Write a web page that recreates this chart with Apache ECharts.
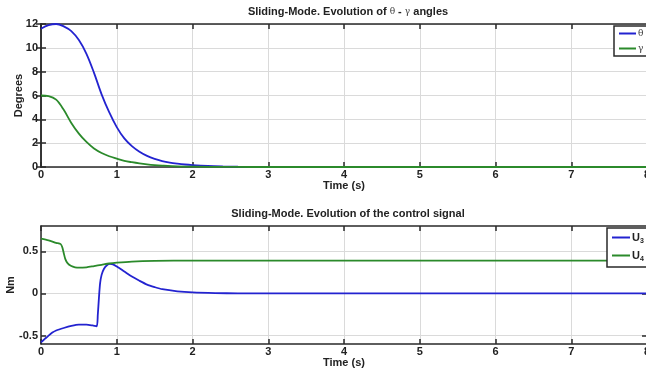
<!DOCTYPE html>
<html>
<head>
<meta charset="utf-8">
<script src="https://cdn.jsdelivr.net/npm/echarts@6/dist/echarts.min.js"></script>
<style>
  html, body { margin: 0; padding: 0; background: #fff; }
  #chart { width: 646px; height: 372px; }
</style>
</head>
<body>
<div id="chart"></div>
<script>
  // time ticks shared by both plots
  var timeTicks = [0, 1, 2, 3, 4, 5, 6, 7, 8]
  var degTicks = [0, 2, 4, 6, 8, 10, 12]
  var nmTicks = [-0.5, 0, 0.5]

  // theta / gamma angles (degrees)
  var thetaTime = [0, 0.1, 0.2, 0.3, 0.4, 0.5, 0.6, 0.7, 0.8, 0.9, 1.0, 1.1, 1.2, 1.3, 1.4, 1.5, 1.6, 1.7, 1.8, 1.9, 2.0, 2.2, 2.4, 2.6, 2.8, 3.0, 3.5, 4, 8]
  var thetaDeg = [11.6, 11.9, 12.0, 11.8, 11.4, 10.65, 9.5, 7.9, 6.1, 4.6, 3.35, 2.4, 1.75, 1.28, 0.93, 0.68, 0.5, 0.37, 0.28, 0.21, 0.16, 0.09, 0.05, 0.025, 0.012, 0.005, 0.001, 0, 0]
  var gammaTime = [0, 0.1, 0.2, 0.3, 0.4, 0.5, 0.6, 0.7, 0.8, 0.9, 1.0, 1.1, 1.2, 1.3, 1.4, 1.5, 1.6, 1.8, 2.0, 2.5, 3, 8]
  var gammaDeg = [6.0, 5.95, 5.65, 4.8, 3.7, 2.8, 2.1, 1.55, 1.17, 0.9, 0.7, 0.52, 0.4, 0.3, 0.22, 0.16, 0.12, 0.06, 0.03, 0.005, 0, 0]

  // control signals (Nm)
  var u3Time = [0, 0.05, 0.1, 0.15, 0.2, 0.3, 0.4, 0.5, 0.6, 0.68, 0.735, 0.75, 0.765, 0.78, 0.8, 0.83, 0.87, 0.91, 0.95, 1.0, 1.1, 1.2, 1.3, 1.4, 1.5, 1.6, 1.8, 2.0, 2.3, 2.6, 3, 8]
  var u3Nm = [-0.58, -0.54, -0.5, -0.465, -0.44, -0.41, -0.385, -0.37, -0.37, -0.38, -0.39, -0.25, -0.05, 0.12, 0.22, 0.29, 0.335, 0.35, 0.345, 0.32, 0.26, 0.2, 0.15, 0.105, 0.075, 0.05, 0.025, 0.012, 0.004, 0.001, 0, 0]
  var u4Time = [0, 0.1, 0.2, 0.26, 0.28, 0.3, 0.32, 0.35, 0.4, 0.45, 0.5, 0.6, 0.7, 0.8, 0.9, 1.0, 1.2, 1.5, 2.0, 8]
  var u4Nm = [0.65, 0.63, 0.6, 0.585, 0.55, 0.48, 0.41, 0.36, 0.325, 0.31, 0.305, 0.31, 0.325, 0.34, 0.355, 0.365, 0.378, 0.386, 0.39, 0.39]

  var BLUE = '#2323d0'
  var GREEN = '#2b8a2b'
  var FRAME = '#2a2a2a'
  var FONT = 'Liberation Sans'

  function pairs(xs, ys) {
    return xs.map(function (x, i) { return [x, ys[i]] })
  }

  var labelStyle = { color: '#222', fontWeight: 'bold', fontSize: 11, fontFamily: FONT }

  function xAxes(gridIndex, nameGap) {
    return [
      {
        type: 'value', gridIndex: gridIndex, min: 0, max: 8, interval: 1,
        name: 'Time (s)', nameLocation: 'middle', nameGap: nameGap,
        nameTextStyle: labelStyle,
        axisLine: { onZero: false, lineStyle: { color: FRAME, width: 1.5 } },
        axisTick: { inside: true, length: 5, lineStyle: { color: FRAME, width: 1.5 } },
        axisLabel: Object.assign({ margin: 2 }, labelStyle),
        splitLine: { show: true, lineStyle: { color: '#dadada', width: 1 } }
      },
      {
        type: 'value', gridIndex: gridIndex, position: 'top', min: 0, max: 8, interval: 1,
        axisLine: { onZero: false, lineStyle: { color: FRAME, width: 1.5 } },
        axisTick: { inside: true, length: 5, lineStyle: { color: FRAME, width: 1.5 } },
        axisLabel: { show: false },
        splitLine: { show: false }
      }
    ]
  }

  var chart = echarts.init(document.getElementById('chart'))
  chart.setOption({
    animation: false,
    backgroundColor: '#fff',
    title: [
      {
        text: 'Sliding-Mode. Evolution of {g|θ} - {g|γ} angles',
        left: 343, top: 1, textAlign: 'center',
        textStyle: {
          color: '#222', fontWeight: 'bold', fontSize: 11, fontFamily: FONT,
          rich: { g: { fontWeight: 'normal', fontSize: 9, fontFamily: 'DejaVu Serif', color: '#444' } }
        }
      },
      {
        text: 'Sliding-Mode. Evolution of the control signal',
        left: 343, top: 203, textAlign: 'center',
        textStyle: { color: '#222', fontWeight: 'bold', fontSize: 11, fontFamily: FONT }
      }
    ],
    grid: [
      { left: 41, top: 24, width: 606, height: 143, outerBoundsMode: 'none' },
      { left: 41, top: 226, width: 606, height: 118, outerBoundsMode: 'none' }
    ],
    legend: [
      {
        data: ['θ', 'γ'],
        left: 614, top: 26, orient: 'vertical',
        backgroundColor: '#fff', borderColor: FRAME, borderWidth: 1.5, borderRadius: 0,
        padding: [3, 8, 3, 5], itemGap: 6,
        itemWidth: 17, itemHeight: 2, icon: 'rect',
        textStyle: { fontSize: 9, color: '#444', fontFamily: 'DejaVu Serif', padding: [0, 0, 0, -3] }
      },
      {
        data: ['U3', 'U4'],
        left: 607, top: 228, orient: 'vertical',
        backgroundColor: '#fff', borderColor: FRAME, borderWidth: 1.5, borderRadius: 0,
        padding: [4, 8, 4, 5], itemGap: 5,
        itemWidth: 18, itemHeight: 2, icon: 'rect',
        formatter: function (name) { return '{b|U}{s|' + name.slice(1) + '}' },
        textStyle: {
          fontFamily: FONT, color: '#222', padding: [0, 0, 0, -3],
          rich: {
            b: { fontSize: 11, fontWeight: 'bold', fontFamily: FONT, color: '#222' },
            s: { fontSize: 7, fontWeight: 'bold', fontFamily: FONT, color: '#222', padding: [8, 0, 0, 0] }
          }
        }
      }
    ],
    xAxis: xAxes(0, 9).concat(xAxes(1, 12)),
    yAxis: [
      {
        type: 'value', gridIndex: 0, min: 0, max: 12, interval: 2,
        name: 'Degrees', nameLocation: 'middle', nameRotate: 90, nameGap: 17, nameMoveOverlap: false,
        nameTextStyle: labelStyle,
        axisLine: { lineStyle: { color: FRAME, width: 1.5 } },
        axisTick: { show: true, inside: true, length: 5, lineStyle: { color: FRAME, width: 1.5 } },
        axisLabel: Object.assign({ margin: 3 }, labelStyle),
        splitLine: { show: true, lineStyle: { color: '#dadada', width: 1 } }
      },
      {
        type: 'value', gridIndex: 0, position: 'right', min: 0, max: 12, interval: 2,
        axisLine: { show: true, lineStyle: { color: FRAME, width: 1.5 } },
        axisTick: { show: true, inside: true, length: 5, lineStyle: { color: FRAME, width: 1.5 } },
        axisLabel: { show: false },
        splitLine: { show: false }
      },
      {
        type: 'value', gridIndex: 1, min: -0.6, max: 0.8,
        name: 'Nm', nameLocation: 'middle', nameRotate: 90, nameGap: 25, nameMoveOverlap: false,
        nameTextStyle: labelStyle,
        axisLine: { onZero: false, lineStyle: { color: FRAME, width: 1.5 } },
        axisTick: { show: true, inside: true, length: 5, customValues: nmTicks, lineStyle: { color: FRAME, width: 1.5 } },
        axisLabel: Object.assign({ margin: 3, customValues: nmTicks }, labelStyle),
        splitLine: { show: true, lineStyle: { color: '#dadada', width: 1 } }
      },
      {
        type: 'value', gridIndex: 1, position: 'right', min: -0.6, max: 0.8,
        axisLine: { show: true, onZero: false, lineStyle: { color: FRAME, width: 1.5 } },
        axisTick: { show: true, inside: true, length: 5, customValues: nmTicks, lineStyle: { color: FRAME, width: 1.5 } },
        axisLabel: { show: false, customValues: nmTicks },
        splitLine: { show: false }
      }
    ],
    series: [
      {
        name: 'θ', type: 'line', xAxisIndex: 0, yAxisIndex: 0,
        data: pairs(thetaTime, thetaDeg), showSymbol: false, smooth: 0.35,
        lineStyle: { color: BLUE, width: 1.8 }, itemStyle: { color: BLUE }
      },
      {
        name: 'γ', type: 'line', xAxisIndex: 0, yAxisIndex: 0,
        data: pairs(gammaTime, gammaDeg), showSymbol: false, smooth: 0.35,
        lineStyle: { color: GREEN, width: 1.8 }, itemStyle: { color: GREEN }
      },
      {
        name: 'U3', type: 'line', xAxisIndex: 2, yAxisIndex: 2,
        data: pairs(u3Time, u3Nm), showSymbol: false, smooth: 0.25,
        lineStyle: { color: BLUE, width: 1.8 }, itemStyle: { color: BLUE }
      },
      {
        name: 'U4', type: 'line', xAxisIndex: 2, yAxisIndex: 2,
        data: pairs(u4Time, u4Nm), showSymbol: false, smooth: 0.25,
        lineStyle: { color: GREEN, width: 1.8 }, itemStyle: { color: GREEN }
      }
    ]
  })
</script>
</body>
</html>
